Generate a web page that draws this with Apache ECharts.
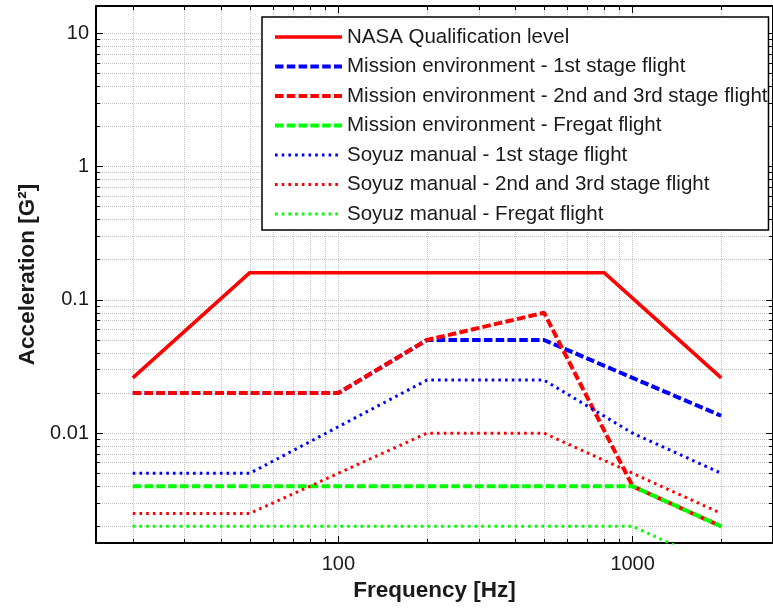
<!DOCTYPE html>
<html><head><meta charset="utf-8">
<script src="https://cdn.jsdelivr.net/npm/echarts@6/dist/echarts.min.js"></script>
<style>html,body{margin:0;padding:0;background:#fff}#c{width:773px;height:609px}</style>
</head><body><div id="c"></div>
<script>
// ---- data ----
var seriesNames = [
  'NASA Qualification level',
  'Mission environment - 1st stage flight',
  'Mission environment - 2nd and 3rd stage flight',
  'Mission environment - Fregat flight',
  'Soyuz manual - 1st stage flight',
  'Soyuz manual - 2nd and 3rd stage flight',
  'Soyuz manual - Fregat flight'
];
var nasaQual      = [[20, 0.026], [50, 0.16], [800, 0.16], [2000, 0.026]];
var mission1st    = [[20, 0.02], [100, 0.02], [200, 0.05], [500, 0.05], [2000, 0.0135]];
var mission2nd3rd = [[20, 0.02], [100, 0.02], [200, 0.05], [500, 0.08], [1000, 0.004], [2000, 0.002]];
var missionFregat = [[20, 0.004], [1000, 0.004], [2000, 0.002]];
var soyuz1st      = [[20, 0.005], [50, 0.005], [200, 0.025], [500, 0.025], [1000, 0.01], [2000, 0.005]];
var soyuz2nd3rd   = [[20, 0.0025], [50, 0.0025], [200, 0.01], [500, 0.01], [1000, 0.005], [2000, 0.0025]];
var soyuzFregat   = [[20, 0.002], [1000, 0.002], [2000, 0.001]];

var xMajorTicks = [100, 1000];
var xAllTicks = [20,30,40,50,60,70,80,90,100,200,300,400,500,600,700,800,900,1000,2000,3000];
var yMajorTicks = [0.01, 0.1, 1, 10];
var yAllTicks = [0.002,0.003,0.004,0.005,0.006,0.007,0.008,0.009,
                 0.01,0.02,0.03,0.04,0.05,0.06,0.07,0.08,0.09,
                 0.1,0.2,0.3,0.4,0.5,0.6,0.7,0.8,0.9,
                 1,2,3,4,5,6,7,8,9,10];

// ---- chart ----
var FONT = 'Liberation Sans';
var TXT = '#1a1a1a';
var fmt = function (v) { return String(+(+v).toPrecision(6)); };

function xAx(pos, ticks, len, opts) {
  return Object.assign({
    type: 'log', position: pos, min: 15, max: 3000,
    axisLine: { show: true, lineStyle: { color: '#000', width: 2 } },
    axisTick: { show: true, inside: true, length: len, customValues: ticks, lineStyle: { color: '#000', width: 1 } },
    axisLabel: { show: false },
    splitLine: { show: false },
    minorTick: { show: false }
  }, opts || {});
}
function yAx(pos, ticks, len, opts) {
  return Object.assign({
    type: 'log', position: pos, min: 0.0015, max: 16,
    axisLine: { show: true, lineStyle: { color: '#000', width: 2 } },
    axisTick: { show: true, inside: true, length: len, customValues: ticks, lineStyle: { color: '#000', width: 1 } },
    axisLabel: { show: false },
    splitLine: { show: false },
    minorTick: { show: false }
  }, opts || {});
}
var gridLine = { show: true, lineStyle: { color: '#c2c2c2', width: 1, type: [1, 1] } };

var lineDefs = [
  { data: nasaQual,      color: '#ff0000', width: 3.5, type: 'solid' },
  { data: mission1st,    color: '#0000ff', width: 4,   type: [8.5, 3.3] },
  { data: mission2nd3rd, color: '#ff0000', width: 4,   type: [8.5, 3.3] },
  { data: missionFregat, color: '#00ff00', width: 4,   type: [8.5, 3.3] },
  { data: soyuz1st,      color: '#0000ff', width: 3,   type: [2.6, 4.1] },
  { data: soyuz2nd3rd,   color: '#ff0000', width: 3,   type: [2.6, 4.1] },
  { data: soyuzFregat,   color: '#00ff00', width: 3,   type: [2.6, 4.1] }
];

var option = {
  animation: false,
  backgroundColor: '#fff',
  textStyle: { fontFamily: FONT },
  grid: { left: 96, top: 6, width: 680, height: 537, containLabel: false },
  xAxis: [
    xAx('bottom', xAllTicks, 4, {
      axisLabel: { show: true, customValues: xMajorTicks, formatter: fmt, margin: 11,
                   fontFamily: FONT, fontSize: 20, color: TXT },
      splitLine: gridLine,
      name: 'Frequency [Hz]', nameLocation: 'middle', nameGap: 31,
      nameTextStyle: { fontFamily: FONT, fontWeight: 'bold', fontSize: 22.5, color: TXT }
    }),
    xAx('bottom', xMajorTicks, 7, { axisLine: { show: false } }),
    xAx('top', xAllTicks, 4),
    xAx('top', xMajorTicks, 7, { axisLine: { show: false } })
  ],
  yAxis: [
    yAx('left', yAllTicks, 4, {
      axisLabel: { show: true, customValues: yMajorTicks, formatter: fmt, margin: 7,
                   fontFamily: FONT, fontSize: 20, color: TXT },
      splitLine: gridLine,
      name: 'Acceleration [G\u00B2]', nameLocation: 'middle', nameGap: 55,
      nameTextStyle: { fontFamily: FONT, fontWeight: 'bold', fontSize: 22.5, color: TXT }
    }),
    yAx('left', yMajorTicks, 7, { axisLine: { show: false } }),
    yAx('right', yAllTicks, 4),
    yAx('right', yMajorTicks, 7, { axisLine: { show: false } })
  ],
  legend: {
    orient: 'vertical', left: 262, top: 17,
    backgroundColor: '#fff', borderColor: '#000', borderWidth: 1.5, borderRadius: 0,
    padding: [9, 1, 5, 11],
    itemWidth: 67, itemHeight: 14, itemGap: 7.5,
    lineStyle: { width: 'inherit' },
    itemStyle: { opacity: 0 },
    selectedMode: false,
    textStyle: { fontFamily: FONT, fontSize: 20.5, color: TXT, lineHeight: 22 },
    data: seriesNames
  },
  series: lineDefs.map(function (d, i) {
    return {
      name: seriesNames[i], type: 'line', data: d.data,
      xAxisIndex: 0, yAxisIndex: 0,
      symbol: 'none', clip: true, z: 3 + i,
      lineStyle: { color: d.color, width: d.width, type: d.type },
      itemStyle: { color: d.color }
    };
  })
};
var chart = echarts.init(document.getElementById('c'), null, { renderer: 'canvas' });
chart.setOption(option);
</script></body></html>
